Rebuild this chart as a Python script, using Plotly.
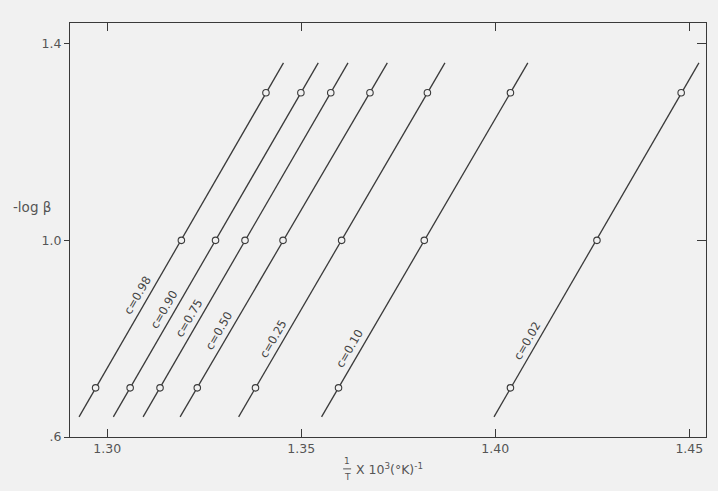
import numpy as np
import plotly.graph_objects as go

# ---- data ----
c_labels = ["c=0.98", "c=0.90", "c=0.75", "c=0.50", "c=0.25", "c=0.10", "c=0.02"]
y_points = [0.7, 1.0, 1.3]          # -log beta at the plotted circles
x_c098 = [1.2970, 1.3191, 1.3409]
x_c090 = [1.3059, 1.3279, 1.3499]
x_c075 = [1.3136, 1.3355, 1.3576]
x_c050 = [1.3232, 1.3453, 1.3677]
x_c025 = [1.3382, 1.3604, 1.3825]
x_c010 = [1.3596, 1.3817, 1.4039]
x_c002 = [1.4039, 1.4262, 1.4479]
line_y_range = [0.641, 1.361]        # extent of each drawn line
label_y = [0.878, 0.850, 0.832, 0.807, 0.790, 0.770, 0.786]

x_ticks = [1.30, 1.35, 1.40, 1.45]
x_ticktext = ["1.30", "1.35", "1.40", "1.45"]
y_ticks = [0.6, 1.0, 1.4]
y_ticktext = [".6", "1.0", "1.4"]

series = [x_c098, x_c090, x_c075, x_c050, x_c025, x_c010, x_c002]

BG = "#f1f1f1"
INK = "#3a3a3a"
TXT = "#555"
FONT = "DejaVu Sans"

fig = go.Figure()
for name, xs, ly in zip(c_labels, series, label_y):
    b, a = np.polyfit(y_points, xs, 1)   # x = a + b*y
    ye = np.array(line_y_range)
    fig.add_trace(go.Scatter(x=a + b * ye, y=ye, mode="lines",
                             line=dict(color=INK, width=1.3),
                             showlegend=False, hoverinfo="skip"))
    fig.add_trace(go.Scatter(x=xs, y=y_points, mode="markers",
                             marker=dict(symbol="circle", size=6.5, color=BG,
                                         line=dict(color=INK, width=1.1)),
                             showlegend=False, name=name))
    fig.add_annotation(x=a + b * ly, y=ly, text=name, showarrow=False,
                       textangle=-60, xshift=-8.5, yshift=5,
                       font=dict(family=FONT, size=11.5, color="#444"))

# invisible trace for the right-hand y axis (inward ticks)
fig.add_trace(go.Scatter(x=[1.30], y=[1.0], yaxis="y2", mode="markers",
                         marker=dict(opacity=0), showlegend=False,
                         hoverinfo="skip"))

x_range = [1.2904, 1.4543]
y_range = [0.6, 1.442]

fig.update_layout(
    width=718, height=491,
    margin=dict(l=70, r=12, t=23, b=54),
    paper_bgcolor=BG, plot_bgcolor=BG,
    font=dict(family=FONT, size=12, color=TXT),
    xaxis=dict(range=x_range, tickvals=x_ticks, ticktext=x_ticktext,
               ticks="inside", ticklen=8, tickwidth=1.2, tickcolor=INK,
               showline=True, linecolor=INK, linewidth=1.3, mirror="ticks",
               showgrid=False, zeroline=False,
               tickfont=dict(family=FONT, size=12.5, color=TXT)),
    yaxis=dict(range=y_range, tickvals=y_ticks, ticktext=y_ticktext,
               ticks="outside", ticklen=5, tickwidth=1.2, tickcolor=INK,
               showline=True, linecolor=INK, linewidth=1.3, mirror=True,
               showgrid=False, zeroline=False,
               tickfont=dict(family=FONT, size=12.5, color=TXT)),
    yaxis2=dict(range=y_range, overlaying="y", side="right",
                tickvals=y_ticks, ticks="inside", ticklen=9, tickwidth=1.2,
                tickcolor=INK, showticklabels=False, showgrid=False,
                zeroline=False, showline=False),
)

# axis titles
fig.add_annotation(xref="paper", yref="paper", x=-0.092, y=0.555,
                   xanchor="left", yanchor="middle", showarrow=False,
                   text="-log β", font=dict(family=FONT, size=13.5, color=TXT))
fig.add_annotation(xref="paper", yref="paper", x=0.4357, y=-0.057,
                   xanchor="center", yanchor="middle", showarrow=False,
                   text="1", font=dict(family=FONT, size=9, color=TXT))
fig.add_annotation(xref="paper", yref="paper", x=0.4357, y=-0.097,
                   xanchor="center", yanchor="middle", showarrow=False,
                   text="T", font=dict(family=FONT, size=9, color=TXT))
fig.add_shape(type="line", xref="paper", yref="paper",
              x0=0.4295, x1=0.442, y0=-0.077, y1=-0.077,
              line=dict(color=TXT, width=1))
fig.add_annotation(xref="paper", yref="paper", x=0.447, y=-0.078,
                   xanchor="left", yanchor="middle", showarrow=False,
                   text="X 10<sup>3</sup>(°K)<sup>-1</sup>",
                   font=dict(family=FONT, size=12.5, color=TXT))

fig.write_html("out.html",
               config={"displayModeBar": False},
               post_script="document.body.style.margin='0px';"
                           "document.body.style.background='%s';" % BG)
